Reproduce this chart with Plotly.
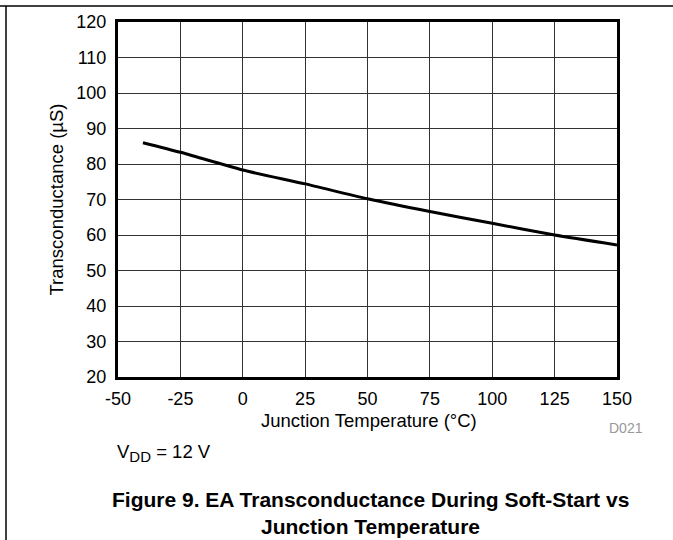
import plotly.graph_objects as go

temperature_c = [-40, -25, 0, 25, 50, 75, 100, 125, 150]
transconductance_us = [86.0, 83.3, 78.3, 74.4, 70.2, 66.6, 63.3, 60.0, 57.2]
x_ticks = [-50, -25, 0, 25, 50, 75, 100, 125, 150]
y_ticks = [20, 30, 40, 50, 60, 70, 80, 90, 100, 110, 120]

FONT = "Liberation Sans, Arial, sans-serif"

fig = go.Figure()
fig.add_trace(go.Scatter(
    x=temperature_c, y=transconductance_us, mode="lines",
    line=dict(color="black", width=3, shape="spline", smoothing=0.6),
    showlegend=False, hoverinfo="skip"))

L, R, T, B = 118, 56, 22, 163
W, H = 673, 540
pw, ph = W - L - R, H - T - B


def px(xpix):
    return (xpix - L) / pw


def py(ypix):
    return (H - B - ypix) / ph


fig.update_layout(
    width=W, height=H,
    margin=dict(l=L, r=R, t=T, b=B),
    paper_bgcolor="white", plot_bgcolor="white",
    font=dict(family=FONT, color="black", size=18),
    xaxis=dict(range=[-50, 150], tickvals=x_ticks, ticktext=[str(v) for v in x_ticks],
               showgrid=True, gridcolor="#333333", gridwidth=1,
               showline=True, linecolor="black", linewidth=3, mirror=True,
               ticks="outside", ticklen=3, tickcolor="rgba(0,0,0,0)",
               zeroline=False, tickfont=dict(size=18)),
    yaxis=dict(range=[20, 120], tickvals=y_ticks,
               showgrid=True, gridcolor="#333333", gridwidth=1,
               showline=True, linecolor="black", linewidth=3, mirror=True,
               ticks="outside", ticklen=5, tickcolor="rgba(0,0,0,0)",
               zeroline=False, tickfont=dict(size=18)),
    shapes=[
        dict(type="line", xref="paper", yref="paper", x0=px(0), x1=px(W), y0=py(6), y1=py(6),
             line=dict(color="black", width=1.5)),
        dict(type="line", xref="paper", yref="paper", x0=px(6), x1=px(6), y0=py(6), y1=py(H),
             line=dict(color="black", width=1.5)),
    ],
    annotations=[
        dict(text="Junction Temperature (°C)", xref="paper", yref="paper", x=px(369), y=py(420),
             xanchor="center", yanchor="middle", showarrow=False, font=dict(size=18.5)),
        dict(text="Transconductance (µS)", xref="paper", yref="paper", x=px(56), y=py(199.5),
             xanchor="center", yanchor="middle", textangle=-90, showarrow=False,
             font=dict(size=18.5)),
        dict(text="D021", xref="paper", yref="paper", x=px(645), y=py(428), xanchor="right",
             yanchor="middle", showarrow=False, font=dict(size=14, color="#999999")),
        dict(text="V<sub><span style='font-size:15px'>DD</span></sub> = 12 V", xref="paper", yref="paper",
             x=px(115), y=py(453), xanchor="left", yanchor="middle", showarrow=False,
             font=dict(size=18.5)),
        dict(text="<b>Figure 9. EA Transconductance During Soft-Start vs</b>", xref="paper", yref="paper",
             x=px(370), y=py(499), xanchor="center", yanchor="middle", showarrow=False,
             font=dict(size=21)),
        dict(text="<b>Junction Temperature</b>", xref="paper", yref="paper",
             x=px(370), y=py(526), xanchor="center", yanchor="middle", showarrow=False,
             font=dict(size=21)),
    ],
)

fig.write_html("out.html", config={"displayModeBar": False},
               post_script="document.body.style.margin='0';document.body.style.padding='0';")
